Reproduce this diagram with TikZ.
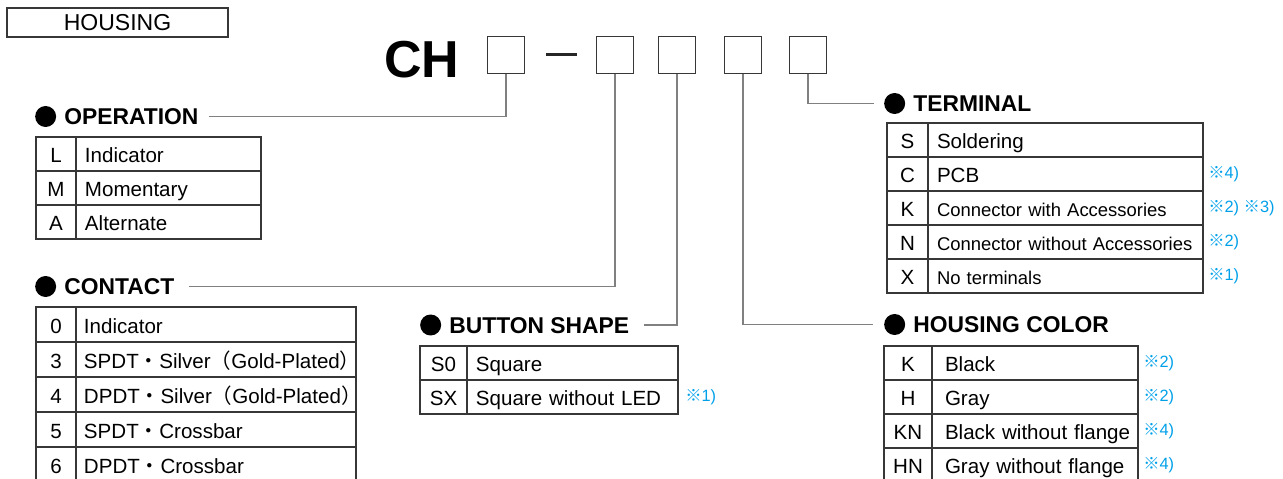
\documentclass[tikz,border=0pt]{standalone}
\usepackage{fontspec}
\setmainfont{Liberation Sans}
\newfontfamily\cjk{Noto Sans CJK JP}
\usepackage{tikz}
\usetikzlibrary{positioning}
\definecolor{rulegray}{RGB}{55,55,55}
\definecolor{linkgray}{RGB}{128,128,128}
\definecolor{noteblue}{RGB}{0,160,233}
\newcommand{\kome}{{\cjk ※}}
\newcommand{\naka}{{\cjk ・}}
\newcommand{\lpar}{{\cjk （}}
\newcommand{\rpar}{{\cjk ）}}
\tikzset{
  codecell/.style={draw=rulegray, line width=0.7pt, outer sep=0pt, inner sep=0pt,
                   minimum height=0.68cm, font=\fontsize{11.7}{13}\selectfont,
                   text height=0.38cm, text depth=0.02cm},
  desccell/.style={codecell, align=left, inner xsep=0.18cm,
                   execute at begin node=\hbox\bgroup, execute at end node=\egroup},
  smalltext/.style={font=\fontsize{10.5}{12}\selectfont},
  headtext/.style={font=\bfseries\fontsize{13}{15}\selectfont, inner sep=0pt,
                   text height=0.328cm, text depth=0pt, anchor=west},
  headdot/.style={circle, fill=black, minimum size=0.42cm, inner sep=0pt},
  slotbox/.style={draw=rulegray, line width=0.7pt, outer sep=0pt, minimum size=0.75cm, inner sep=0pt},
  note/.style={inner sep=0pt, text=noteblue, font=\fontsize{9.3}{11}\selectfont},
  link/.style={draw=linkgray, line width=0.6pt}
}

\begin{document}
\begin{tikzpicture}[
  x=0.02cm, y=-0.02cm,
  opcode/.style={codecell, minimum width=0.8cm},
  opdesc/.style={desccell, text width=3.34cm},
  ctcode/.style={codecell, minimum width=0.8cm, minimum height=0.7cm},
  ctdesc/.style={desccell, text width=5.28cm, minimum height=0.7cm, inner xsep=0.16cm},
  bscode/.style={codecell, minimum width=0.94cm},
  bsdesc/.style={desccell, text width=3.86cm},
  tmcode/.style={codecell, minimum width=0.82cm},
  tmdesc/.style={desccell, text width=5.14cm},
  hccode/.style={codecell, minimum width=0.96cm},
  hcdesc/.style={desccell, text width=3.6cm, inner xsep=0.26cm},
]
\useasboundingbox (0,0) rectangle (1283,479);

% Title and part number
\node[draw=rulegray, line width=0.6pt, minimum width=4.42cm, minimum height=0.58cm, inner sep=0pt,
      font=\fontsize{13.1}{15}\selectfont] (housing) at (117.5,22.5) {HOUSING};
\node[font=\bfseries\fontsize{29.6}{32}\selectfont, inner sep=0pt, anchor=base] (ch) at (422,78) {CH};
\node[slotbox] (b1) at (506,55) {};
\node[fill=black!85, minimum width=0.62cm, minimum height=0.06cm, inner sep=0pt] (dash) at (561.5,55) {};
\node[slotbox] (b2) at (615,55) {};
\node[slotbox] (b3) at (677,55) {};
\node[slotbox] (b4) at (743,55) {};
\node[slotbox] (b5) at (808,55) {};

% Operation
\node[headtext] (opHead) at (64,116.5) {OPERATION};
\node[headdot, left=0.15cm of opHead] (opDot) {};
\node[opcode, anchor=north west] (opL) at (36,137) {L};
\node[opdesc, right=0pt of opL] (opLd) {Indicator};
\node[opcode, below=0pt of opL] (opM) {M};
\node[opdesc, right=0pt of opM] (opMd) {Momentary};
\node[opcode, below=0pt of opM] (opA) {A};
\node[opdesc, right=0pt of opA] (opAd) {Alternate};

% Contact
\node[headtext] (ctHead) at (64,286.5) {CONTACT};
\node[headdot, left=0.15cm of ctHead] (ctDot) {};
\node[ctcode, anchor=north west] (ct0) at (36,307) {0};
\node[ctdesc, right=0pt of ct0] (ct0d) {Indicator};
\node[ctcode, below=0pt of ct0] (ct3) {3};
\node[ctdesc, right=0pt of ct3] (ct3d) {SPDT\naka Silver\lpar Gold-Plated\rpar};
\node[ctcode, below=0pt of ct3] (ct4) {4};
\node[ctdesc, right=0pt of ct4] (ct4d) {DPDT\naka Silver\lpar Gold-Plated\rpar};
\node[ctcode, below=0pt of ct4] (ct5) {5};
\node[ctdesc, right=0pt of ct5] (ct5d) {SPDT\naka Crossbar};
\node[ctcode, below=0pt of ct5] (ct6) {6};
\node[ctdesc, right=0pt of ct6] (ct6d) {DPDT\naka Crossbar};

% Button shape
\node[headtext] (bsHead) at (449,325) {BUTTON SHAPE};
\node[headdot, left=0.15cm of bsHead] (bsDot) {};
\node[bscode, anchor=north west] (bsS0) at (420,346) {S0};
\node[bsdesc, right=0pt of bsS0] (bsS0d) {Square};
\node[bscode, below=0pt of bsS0] (bsSX) {SX};
\node[bsdesc, right=0pt of bsSX] (bsSXd) {Square without LED};
\node[note, right=0.14cm of bsSXd] (bsSXn) {\kome1)};

% Terminal
\node[headtext] (tmHead) at (913,103.5) {TERMINAL};
\node[headdot, left=0.15cm of tmHead] (tmDot) {};
\node[tmcode, anchor=north west] (tmS) at (887,123) {S};
\node[tmdesc, right=0pt of tmS] (tmSd) {Soldering};
\node[tmcode, below=0pt of tmS] (tmC) {C};
\node[tmdesc, right=0pt of tmC] (tmCd) {PCB};
\node[tmcode, below=0pt of tmC] (tmK) {K};
\node[tmdesc, smalltext, right=0pt of tmK] (tmKd) {Connector with Accessories};
\node[tmcode, below=0pt of tmK] (tmN) {N};
\node[tmdesc, smalltext, right=0pt of tmN] (tmNd) {Connector without Accessories};
\node[tmcode, below=0pt of tmN] (tmX) {X};
\node[tmdesc, smalltext, right=0pt of tmX] (tmXd) {No terminals};
\node[note, right=0.1cm of tmCd] (tmCn) {\kome4)};
\node[note, right=0.1cm of tmKd] (tmKn) {\kome2) \kome3)};
\node[note, right=0.1cm of tmNd] (tmNn) {\kome2)};
\node[note, right=0.1cm of tmXd] (tmXn) {\kome1)};

% Housing color
\node[headtext] (hcHead) at (913,324.5) {HOUSING COLOR};
\node[headdot, left=0.15cm of hcHead] (hcDot) {};
\node[hccode, anchor=north west] (hcK) at (884,346) {K};
\node[hcdesc, right=0pt of hcK] (hcKd) {Black};
\node[hccode, below=0pt of hcK] (hcH) {H};
\node[hcdesc, right=0pt of hcH] (hcHd) {Gray};
\node[hccode, below=0pt of hcH] (hcKN) {KN};
\node[hcdesc, right=0pt of hcKN] (hcKNd) {Black without flange};
\node[hccode, below=0pt of hcKN] (hcHN) {HN};
\node[hcdesc, right=0pt of hcHN] (hcHNd) {Gray without flange};
\node[note, right=0.1cm of hcKd] (hcKn) {\kome2)};
\node[note, right=0.1cm of hcHd] (hcHn) {\kome2)};
\node[note, right=0.1cm of hcKNd] (hcKNn) {\kome4)};
\node[note, right=0.1cm of hcHNd] (hcHNn) {\kome4)};

% Leader lines
\draw[link] (b1.south) |- ([xshift=0.2cm]opHead.east);
\draw[link] (b2.south) |- ([xshift=0.28cm]ctHead.east);
\draw[link] (b3.south) |- ([xshift=0.3cm]bsHead.east);
\draw[link] (b4.south) |- ([xshift=-0.22cm]hcDot.west);
\draw[link] (b5.south) |- ([xshift=-0.2cm]tmDot.west);

\end{tikzpicture}
\end{document}
